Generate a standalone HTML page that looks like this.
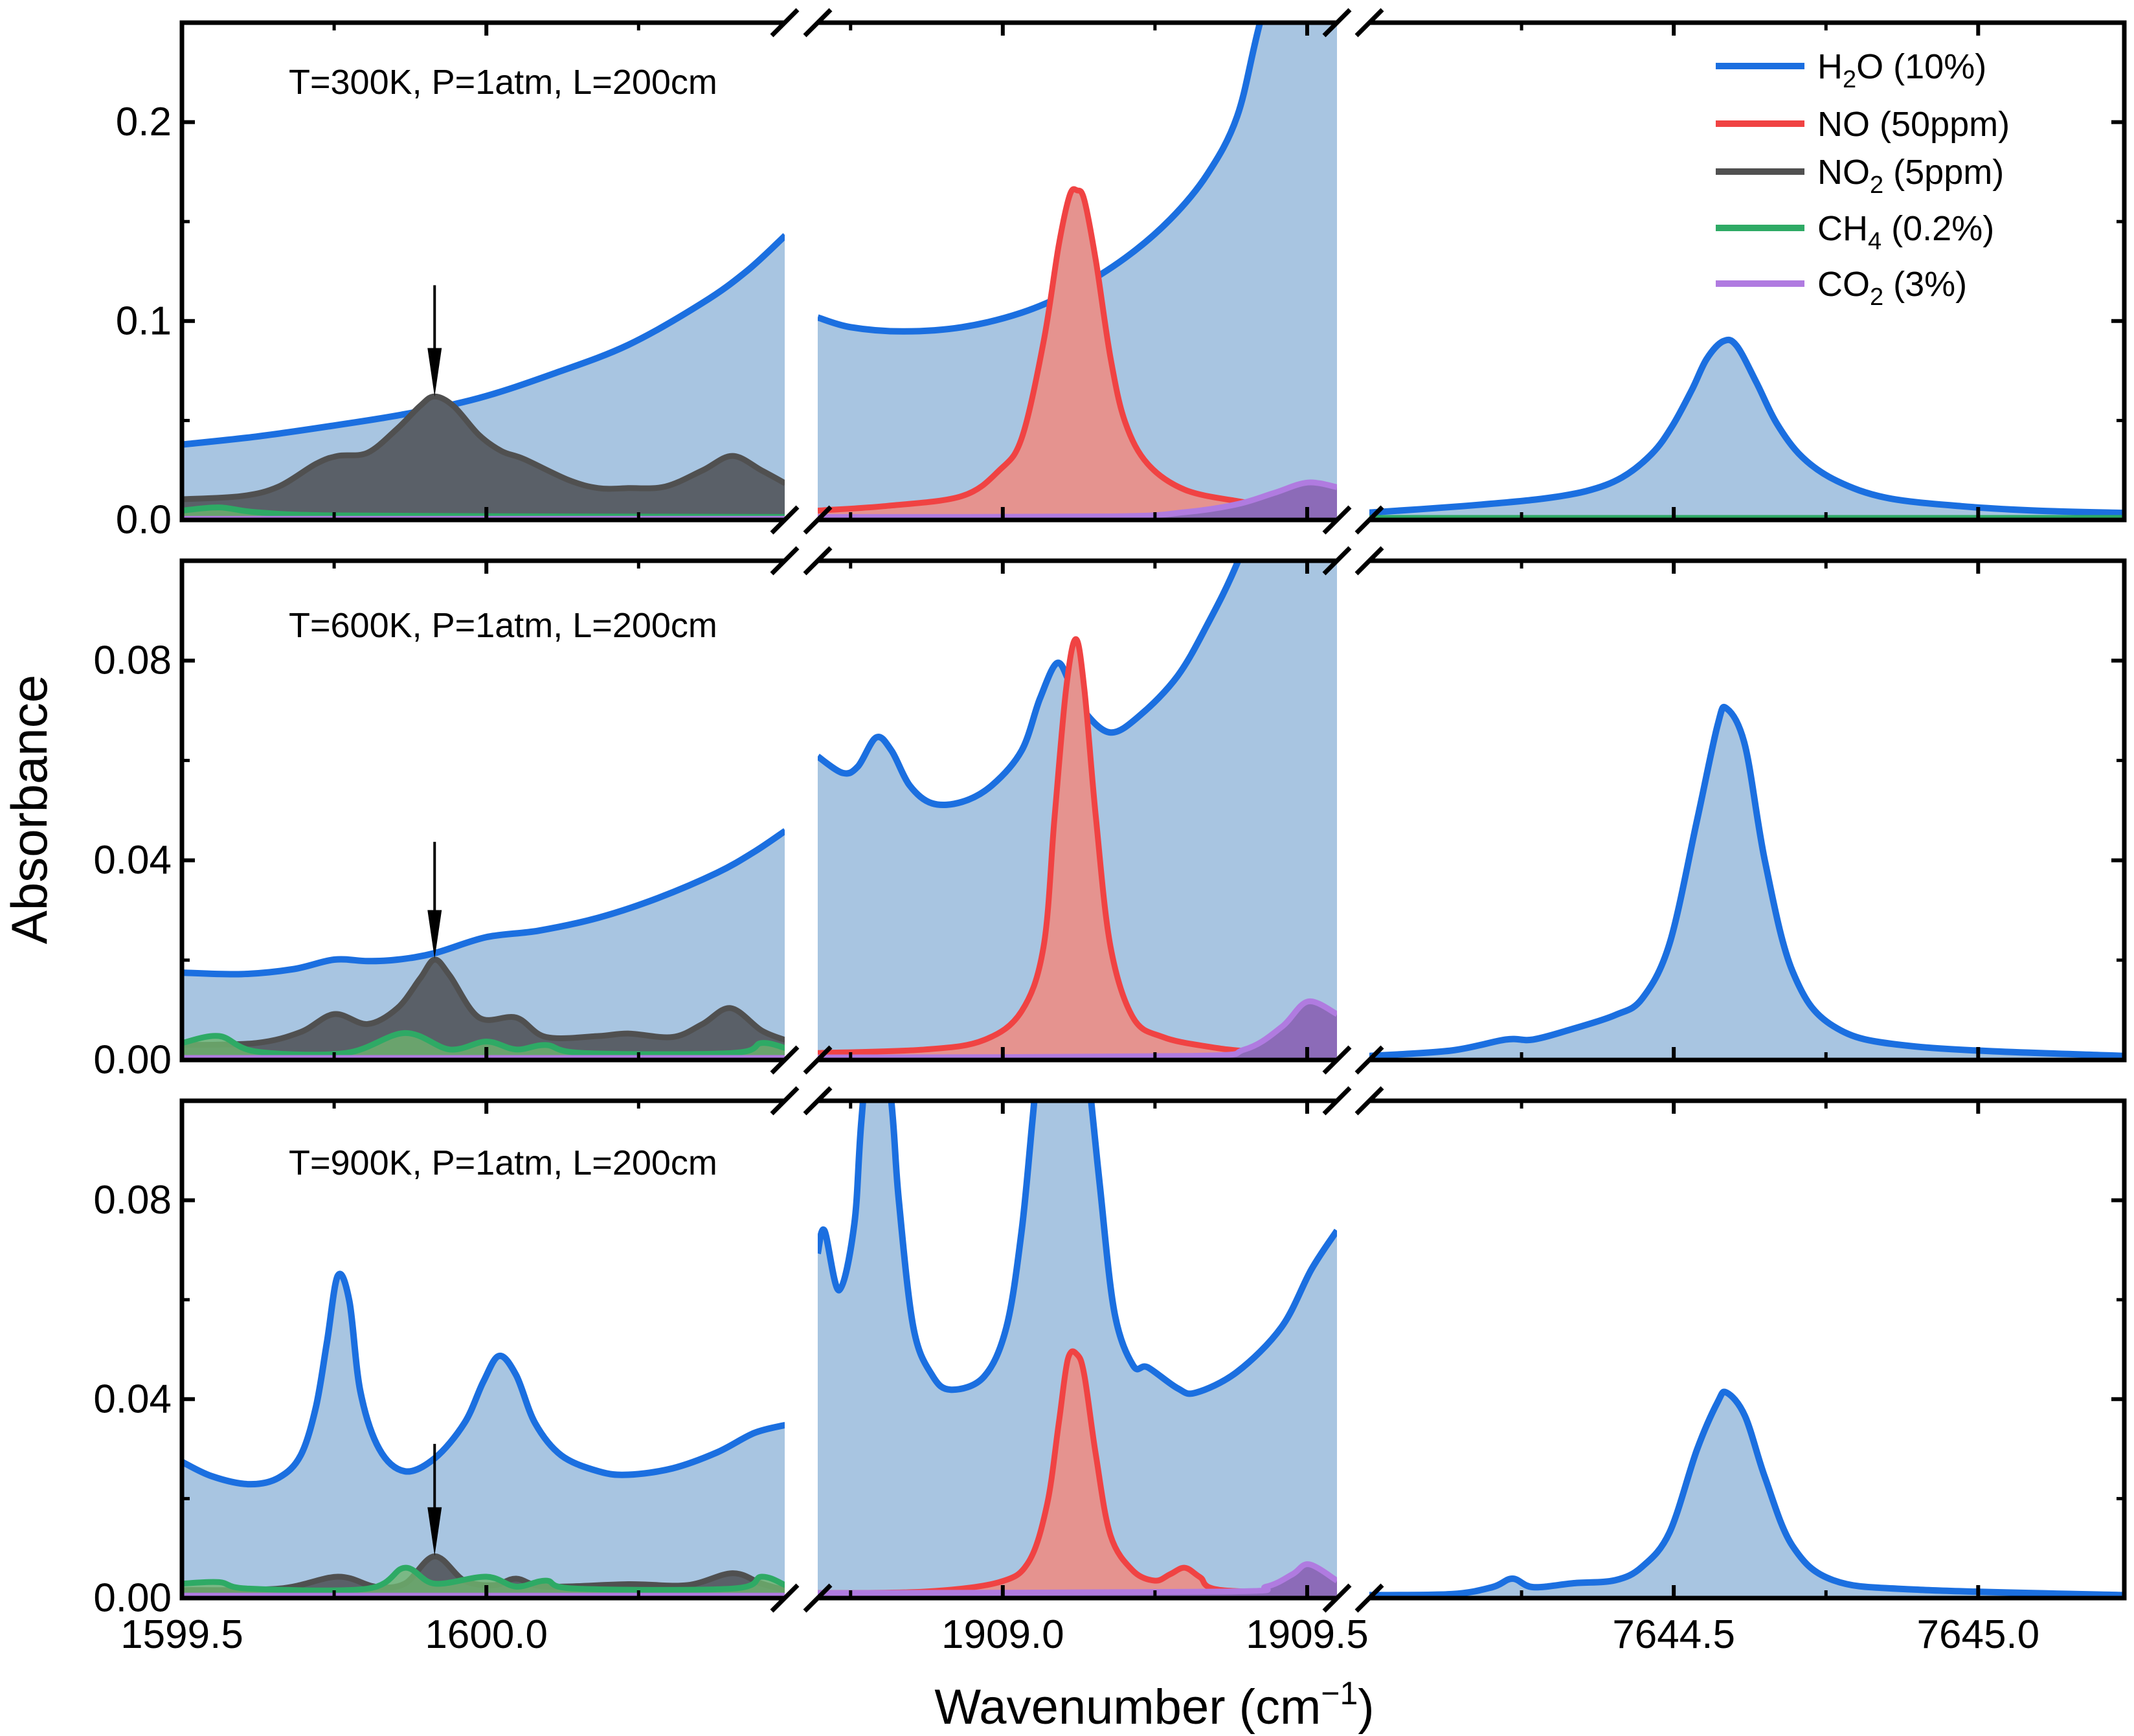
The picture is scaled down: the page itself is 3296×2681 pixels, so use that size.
<!DOCTYPE html>
<html><head><meta charset="utf-8"><style>
html,body{margin:0;padding:0;background:#fff;}
svg{display:block;font-family:"Liberation Sans",Arial,sans-serif;}
</style></head><body>
<svg id="chart" xmlns="http://www.w3.org/2000/svg" width="3296" height="2681" viewBox="0 0 3296 2681"></svg>
<script>
// ---- data (wavenumber / absorbance) ----
const h2o_p1_s1_wn=[1599.5,1599.622,1599.744,1599.866,1599.988,1600.11,1600.233,1600.355,1600.428,1600.491];
const h2o_p1_s1_abs=[0.0379,0.0419,0.0472,0.0532,0.0613,0.0735,0.0880,0.1091,0.1252,0.1430];
const no2_p1_s1_wn=[1599.5,1599.598,1599.659,1599.72,1599.756,1599.805,1599.854,1599.891,1599.915,1599.946,1599.988,1600.025,1600.062,1600.135,1600.184,1600.233,1600.294,1600.355,1600.404,1600.452,1600.491];
const no2_p1_s1_abs=[0.0104,0.0120,0.0168,0.0282,0.0322,0.0338,0.0460,0.0573,0.0621,0.0573,0.0427,0.0346,0.0306,0.0201,0.0160,0.0160,0.0168,0.0249,0.0322,0.0249,0.0184];
const ch4_p1_s1_wn=[1599.5,1599.561,1599.622,1599.744,1600.11,1600.491];
const ch4_p1_s1_abs=[0.0047,0.0063,0.0039,0.0023,0.0018,0.0015];
const co2_p1_s1_wn=[1599.5,1600.491];
const co2_p1_s1_abs=[0.0006,0.0006];

const h2o_p1_s2_wn=[1908.696,1908.750,1908.835,1908.933,1909.031,1909.116,1909.201,1909.275,1909.336,1909.385,1909.421,1909.482,1909.549];
const h2o_p1_s2_abs=[0.1018,0.0969,0.0948,0.0969,0.1042,0.1155,0.1317,0.1511,0.1738,0.2029,0.2482,0.32,0.40];
const no_p1_s2_wn=[1908.696,1908.811,1908.933,1908.994,1909.031,1909.067,1909.092,1909.110,1909.122,1909.134,1909.153,1909.177,1909.201,1909.238,1909.299,1909.385,1909.433,1909.549];
const no_p1_s2_abs=[0.0047,0.0071,0.0120,0.0249,0.0411,0.0896,0.1382,0.1633,0.1657,0.1608,0.1301,0.0815,0.0492,0.0282,0.0152,0.0095,0.0079,0.0055];
const co2_p1_s2_wn=[1908.696,1909.177,1909.299,1909.385,1909.446,1909.501,1909.549];
const co2_p1_s2_abs=[0.0015,0.0018,0.0039,0.0079,0.0136,0.0188,0.0165];

const h2o_p1_s3_wn=[7643.991,7644.151,7644.274,7644.356,7644.415,7644.464,7644.497,7644.530,7644.554,7644.581,7644.603,7644.636,7644.669,7644.711,7644.768,7644.850,7644.973,7645.096,7645.244];
const h2o_p1_s3_abs=[0.0035,0.0069,0.0103,0.0145,0.0214,0.0333,0.0469,0.0656,0.0809,0.0898,0.0877,0.0690,0.0486,0.0316,0.0196,0.0111,0.0069,0.0047,0.0035];
const ch4_p1_s3_wn=[7644.0,7645.24];
const ch4_p1_s3_abs=[0.0010,0.0010];

const h2o_p2_s1_wn=[1599.5,1599.598,1599.683,1599.750,1599.805,1599.854,1599.915,1600.0,1600.086,1600.184,1600.281,1600.379,1600.440,1600.491];
const h2o_p2_s1_abs=[0.0175,0.0172,0.0182,0.0201,0.0198,0.0201,0.0214,0.0246,0.0259,0.0285,0.0324,0.0375,0.0417,0.0459];
const no2_p2_s1_wn=[1599.5,1599.622,1599.695,1599.750,1599.805,1599.854,1599.891,1599.915,1599.94,1599.988,1600.049,1600.098,1600.184,1600.233,1600.306,1600.355,1600.401,1600.452,1600.491];
const no2_p2_s1_abs=[0.0030,0.0034,0.0056,0.0092,0.0072,0.0104,0.0163,0.0201,0.0169,0.0085,0.0085,0.0046,0.0048,0.0053,0.0046,0.0072,0.0104,0.0059,0.0040];
const ch4_p2_s1_wn=[1599.5,1599.561,1599.622,1599.769,1599.866,1599.94,1600.0,1600.049,1600.098,1600.159,1600.404,1600.452,1600.491];
const ch4_p2_s1_abs=[0.0034,0.0048,0.0017,0.0014,0.0054,0.0021,0.0037,0.0021,0.0030,0.0014,0.0014,0.0034,0.0024];
const co2_p2_s1_wn=[1599.5,1600.491];
const co2_p2_s1_abs=[0.0004,0.0004];

const h2o_p2_s2_wn=[1908.696,1908.737,1908.762,1908.792,1908.817,1908.847,1908.884,1908.933,1908.982,1909.031,1909.061,1909.089,1909.110,1909.134,1909.177,1909.226,1909.287,1909.336,1909.385,1909.446,1909.549];
const h2o_p2_s2_abs=[0.0608,0.0575,0.0588,0.0646,0.0620,0.0550,0.0514,0.0517,0.0550,0.0620,0.0724,0.0795,0.0756,0.0698,0.0656,0.0691,0.0769,0.0872,0.0995,0.119,0.145];
const no_p2_s2_wn=[1908.696,1908.872,1908.969,1909.031,1909.067,1909.085,1909.104,1909.120,1909.134,1909.153,1909.177,1909.214,1909.263,1909.336,1909.409,1909.549];
const no_p2_s2_abs=[0.0014,0.0021,0.0040,0.0098,0.0227,0.0485,0.0743,0.0843,0.0743,0.0485,0.0227,0.0085,0.0046,0.0027,0.0017,0.0011];
const co2_p2_s2_wn=[1908.696,1909.299,1909.397,1909.458,1909.501,1909.549];
const co2_p2_s2_abs=[0.0005,0.0008,0.0021,0.0066,0.0117,0.0092];

const h2o_p2_s3_wn=[7644.0,7644.135,7644.224,7644.269,7644.336,7644.404,7644.448,7644.493,7644.538,7644.572,7644.587,7644.617,7644.650,7644.695,7644.762,7644.897,7645.24];
const h2o_p2_s3_abs=[0.0008,0.0019,0.0041,0.0041,0.0063,0.0090,0.0123,0.0233,0.0479,0.0671,0.0704,0.0630,0.0397,0.0178,0.0068,0.0027,0.0008];

const h2o_p3_s1_wn=[1599.5,1599.549,1599.610,1599.659,1599.695,1599.720,1599.738,1599.756,1599.775,1599.793,1599.824,1599.866,1599.915,1599.964,1599.995,1600.021,1600.049,1600.080,1600.123,1600.184,1600.233,1600.306,1600.379,1600.440,1600.491];
const h2o_p3_s1_abs=[0.0274,0.0245,0.0229,0.0242,0.0287,0.0384,0.0513,0.0648,0.0597,0.0416,0.0300,0.0255,0.0281,0.0352,0.0435,0.0487,0.0448,0.0352,0.0287,0.0255,0.0248,0.0261,0.0293,0.0332,0.0348];
const no2_p3_s1_wn=[1599.5,1599.659,1599.756,1599.817,1599.866,1599.915,1599.964,1600.013,1600.049,1600.098,1600.233,1600.330,1600.404,1600.452,1600.491];
const no2_p3_s1_abs=[0.0016,0.0019,0.0043,0.0023,0.0029,0.0084,0.0035,0.0026,0.0039,0.0023,0.0028,0.0026,0.0050,0.0029,0.0016];
const ch4_p3_s1_wn=[1599.5,1599.561,1599.610,1599.805,1599.866,1599.915,1600.0,1600.049,1600.098,1600.147,1600.404,1600.452,1600.491];
const ch4_p3_s1_abs=[0.0029,0.0032,0.0019,0.0019,0.0061,0.0029,0.0043,0.0023,0.0035,0.0019,0.0019,0.0043,0.0026];
const co2_p3_s1_wn=[1599.5,1600.491];
const co2_p3_s1_abs=[0.0005,0.0005];

const h2o_p3_s2_wn=[1908.696,1908.707,1908.731,1908.756,1908.768,1908.792,1908.817,1908.829,1908.853,1908.884,1908.915,1908.969,1909.006,1909.031,1909.049,1909.067,1909.098,1909.128,1909.140,1909.159,1909.183,1909.214,1909.238,1909.287,1909.317,1909.385,1909.458,1909.507,1909.549];
const h2o_p3_s2_abs=[0.0693,0.0739,0.0619,0.0751,0.0964,0.1255,0.0997,0.0803,0.0545,0.0448,0.0419,0.0445,0.0545,0.0739,0.0964,0.119,0.145,0.119,0.1061,0.0835,0.0577,0.0468,0.0464,0.0422,0.0413,0.0455,0.0545,0.0661,0.0739];
const no_p3_s2_wn=[1908.696,1908.872,1908.994,1909.043,1909.073,1909.092,1909.107,1909.122,1909.134,1909.153,1909.177,1909.214,1909.250,1909.275,1909.299,1909.324,1909.360,1909.549];
const no_p3_s2_abs=[0.0010,0.0013,0.0032,0.0074,0.0190,0.0352,0.0481,0.0490,0.0448,0.0287,0.0126,0.0055,0.0035,0.0048,0.0061,0.0042,0.0016,0.0010];
const co2_p3_s2_wn=[1908.696,1909.360,1909.433,1909.476,1909.503,1909.549];
const co2_p3_s2_abs=[0.0010,0.0013,0.0023,0.0048,0.0068,0.0035];

const h2o_p3_s3_wn=[7644.0,7644.135,7644.202,7644.235,7644.269,7644.336,7644.404,7644.448,7644.493,7644.538,7644.572,7644.587,7644.617,7644.650,7644.695,7644.762,7644.897,7645.24];
const h2o_p3_s3_abs=[0.0006,0.0008,0.0022,0.0039,0.0022,0.0030,0.0036,0.0063,0.0132,0.0298,0.0394,0.0413,0.0366,0.0242,0.0105,0.0036,0.0017,0.0006];

const arrowWn=[1599.915,1599.915,1599.915];
const arrowFrom=[0.118,0.0437,0.031];
const arrowTo=[0.062,0.0203,0.0085];

const panelLabels=["T=300K, P=1atm, L=200cm","T=600K, P=1atm, L=200cm","T=900K, P=1atm, L=200cm"];
const yTickLabels=[["0.0","0.1","0.2"],["0.00","0.04","0.08"],["0.00","0.04","0.08"]];
const yTickValues=[[0,0.1,0.2],[0,0.04,0.08],[0,0.04,0.08]];
const yMinorValues=[[0.05,0.15],[0.02,0.06],[0.02,0.06]];
const xMajor=[[1599.5,1600.0],[1909.0,1909.5],[7644.5,7645.0]];
const xMajorLabels=[["1599.5","1600.0"],["1909.0","1909.5"],["7644.5","7645.0"]];
const xMinor=[[1599.75,1600.25],[1908.75,1909.25],[7644.25,7644.75]];

// ---- layout ----
const SEGS=[{px0:281,px1:1212,d0:1599.5,d1:1600.49},{px0:1263,px1:2065,d0:1908.696,d1:1909.549},{px0:2115,px1:3281,d0:7644.0,d1:7645.24}];
const PANELS=[{top:35,bot:803,ymax:0.25},{top:866,bot:1637,ymax:0.10},{top:1700,bot:2468,ymax:0.10}];
const COL={h2o:{line:"#1b6fe0",fill:"#a8c5e1"},no:{line:"#f04343",fill:"#e5938f"},no2:{line:"#505050",fill:"#5a6068"},ch4:{line:"#2eaa65",fill:"rgba(110,180,110,0.8)"},co2:{line:"#b07be0",fill:"#8c6bb8"}};
const NS="http://www.w3.org/2000/svg";
const svg=document.getElementById('chart');
function el(tag,attrs,parent){const e=document.createElementNS(NS,tag);for(const k in attrs)e.setAttribute(k,attrs[k]);(parent||svg).appendChild(e);return e;}
function sx(s,wn){const g=SEGS[s];return g.px0+(wn-g.d0)/(g.d1-g.d0)*(g.px1-g.px0);}
function sy(p,a){const P=PANELS[p];return P.bot-a/P.ymax*(P.bot-P.top);}
function smooth(pts){let d=`M${pts[0][0].toFixed(1)},${pts[0][1].toFixed(1)}`;for(let i=0;i<pts.length-1;i++){const p0=pts[i-1]||pts[i],p1=pts[i],p2=pts[i+1],p3=pts[i+2]||p2;const c1x=p1[0]+(p2[0]-p0[0])/6,c1y=p1[1]+(p2[1]-p0[1])/6,c2x=p2[0]-(p3[0]-p1[0])/6,c2y=p2[1]-(p3[1]-p1[1])/6;d+=` C${c1x.toFixed(1)},${c1y.toFixed(1)} ${c2x.toFixed(1)},${c2y.toFixed(1)} ${p2[0].toFixed(1)},${p2[1].toFixed(1)}`;}return d;}

const SERIES=[
 [0,0,'h2o',h2o_p1_s1_wn,h2o_p1_s1_abs],[0,0,'no2',no2_p1_s1_wn,no2_p1_s1_abs],[0,0,'ch4',ch4_p1_s1_wn,ch4_p1_s1_abs],[0,0,'co2',co2_p1_s1_wn,co2_p1_s1_abs],
 [0,1,'h2o',h2o_p1_s2_wn,h2o_p1_s2_abs],[0,1,'no',no_p1_s2_wn,no_p1_s2_abs],[0,1,'co2',co2_p1_s2_wn,co2_p1_s2_abs],
 [0,2,'h2o',h2o_p1_s3_wn,h2o_p1_s3_abs],[0,2,'ch4',ch4_p1_s3_wn,ch4_p1_s3_abs],
 [1,0,'h2o',h2o_p2_s1_wn,h2o_p2_s1_abs],[1,0,'no2',no2_p2_s1_wn,no2_p2_s1_abs],[1,0,'ch4',ch4_p2_s1_wn,ch4_p2_s1_abs],[1,0,'co2',co2_p2_s1_wn,co2_p2_s1_abs],
 [1,1,'h2o',h2o_p2_s2_wn,h2o_p2_s2_abs],[1,1,'no',no_p2_s2_wn,no_p2_s2_abs],[1,1,'co2',co2_p2_s2_wn,co2_p2_s2_abs],
 [1,2,'h2o',h2o_p2_s3_wn,h2o_p2_s3_abs],
 [2,0,'h2o',h2o_p3_s1_wn,h2o_p3_s1_abs],[2,0,'no2',no2_p3_s1_wn,no2_p3_s1_abs],[2,0,'ch4',ch4_p3_s1_wn,ch4_p3_s1_abs],[2,0,'co2',co2_p3_s1_wn,co2_p3_s1_abs],
 [2,1,'h2o',h2o_p3_s2_wn,h2o_p3_s2_abs],[2,1,'no',no_p3_s2_wn,no_p3_s2_abs],[2,1,'co2',co2_p3_s2_wn,co2_p3_s2_abs],
 [2,2,'h2o',h2o_p3_s3_wn,h2o_p3_s3_abs]
];

const defs=el('defs',{});
for(let p=0;p<3;p++)for(let s=0;s<3;s++){const c=el('clipPath',{id:`clip${p}${s}`},defs);el('rect',{x:SEGS[s].px0,y:PANELS[p].top,width:SEGS[s].px1-SEGS[s].px0,height:PANELS[p].bot-PANELS[p].top},c);}

// series
SERIES.forEach(([p,s,key,wn,ab])=>{
  const g=el('g',{'clip-path':`url(#clip${p}${s})`});
  
  
  const pts=wn.map((w,i)=>[sx(s,w),sy(p,ab[i])]);
  const d=smooth(pts);
  const y0=sy(p,0);
  const fill=el('path',{d:d+` L${pts[pts.length-1][0]},${y0} L${pts[0][0]},${y0} Z`,fill:COL[key].fill,stroke:'none'},g);
  
  
  const ln=el('path',{d:d,fill:'none',stroke:COL[key].line,'stroke-width':key==='h2o'?10:9,'stroke-linejoin':'round'},g);
  
  
});

// axes frames
for(let p=0;p<3;p++){
  const P=PANELS[p];
  const ax=el('g',{stroke:'#000','stroke-width':7,fill:'none'});
  
  
  el('line',{x1:SEGS[0].px0,y1:P.top-3.5,x2:SEGS[0].px0,y2:P.bot+3.5},ax);
  el('line',{x1:SEGS[2].px1,y1:P.top-3.5,x2:SEGS[2].px1,y2:P.bot+3.5},ax);
  for(let s=0;s<3;s++){
    el('line',{x1:SEGS[s].px0,y1:P.top,x2:SEGS[s].px1,y2:P.top},ax);
    el('line',{x1:SEGS[s].px0,y1:P.bot,x2:SEGS[s].px1,y2:P.bot},ax);
    xMajor[s].forEach(w=>{const x=sx(s,w);el('line',{x1:x,y1:P.top,x2:x,y2:P.top+20,'stroke-width':6},ax);el('line',{x1:x,y1:P.bot,x2:x,y2:P.bot-20,'stroke-width':6},ax);});
    xMinor[s].forEach(w=>{const x=sx(s,w);el('line',{x1:x,y1:P.top,x2:x,y2:P.top+12,'stroke-width':5},ax);el('line',{x1:x,y1:P.bot,x2:x,y2:P.bot-12,'stroke-width':5},ax);});
  }
  // breaks
  [SEGS[0].px1,SEGS[1].px0,SEGS[1].px1,SEGS[2].px0].forEach(x=>{[P.top,P.bot].forEach(y=>{el('line',{x1:x-20,y1:y+20,x2:x+20,y2:y-20,'stroke-width':7},ax);});});
  yTickValues[p].forEach((v,i)=>{const y=sy(p,v);
    el('line',{x1:SEGS[0].px0,y1:y,x2:SEGS[0].px0+20,y2:y,'stroke-width':6},ax);
    el('line',{x1:SEGS[2].px1,y1:y,x2:SEGS[2].px1-20,y2:y,'stroke-width':6},ax);
    const t=el('text',{x:265,y:y,'text-anchor':'end','dominant-baseline':'central','font-size':62,fill:'#000',stroke:'none'});
    t.textContent=yTickLabels[p][i];
    
    
  });
  yMinorValues[p].forEach(v=>{const y=sy(p,v);el('line',{x1:SEGS[0].px0,y1:y,x2:SEGS[0].px0+12,y2:y,'stroke-width':5},ax);el('line',{x1:SEGS[2].px1,y1:y,x2:SEGS[2].px1-12,y2:y,'stroke-width':5},ax);});
  // label
  const lab=el('text',{x:446,y:[145,984,1814][p],'font-size':54,fill:'#000'});
  lab.textContent=panelLabels[p];
  
  
  // arrow
  const ax1=sx(0,arrowWn[p]),yA=sy(p,arrowFrom[p]),yB=sy(p,arrowTo[p]);
  const ar=el('g',{});
  
  
  el('line',{x1:ax1,y1:yA,x2:ax1,y2:yB-40,stroke:'#000','stroke-width':4},ar);
  el('polygon',{points:`${ax1-11},${yB-75} ${ax1+11},${yB-75} ${ax1},${yB}`,fill:'#000'},ar);
}

// x tick labels
for(let s=0;s<3;s++)xMajor[s].forEach((w,i)=>{const t=el('text',{x:sx(s,w),y:2545,'text-anchor':'middle','font-size':62,fill:'#000'});t.textContent=xMajorLabels[s][i];});

// axis titles
const xt=el('text',{x:1783,y:2662,'text-anchor':'middle','font-size':76,fill:'#000'});


xt.innerHTML='Wavenumber (cm<tspan dy="-30" font-size="50">−1</tspan><tspan dy="30">)</tspan>';
const yt=el('text',{x:0,y:0,'text-anchor':'middle','font-size':78,fill:'#000',transform:'translate(72,1250) rotate(-90)'});


yt.textContent='Absorbance';

// legend
const legKeys=['h2o','no','no2','ch4','co2'];
const legY=[102,191,265,352,438];
const legHtml=['H<tspan dy="14" font-size="38">2</tspan><tspan dy="-14">O (10%)</tspan>','NO (50ppm)','NO<tspan dy="14" font-size="38">2</tspan><tspan dy="-14"> (5ppm)</tspan>','CH<tspan dy="14" font-size="38">4</tspan><tspan dy="-14"> (0.2%)</tspan>','CO<tspan dy="14" font-size="38">2</tspan><tspan dy="-14"> (3%)</tspan>'];
const leg=el('g',{});


legKeys.forEach((k,i)=>{
  const g=el('g',{},leg);
  
  
  el('line',{x1:2650,y1:legY[i],x2:2787,y2:legY[i],stroke:COL[k].line,'stroke-width':10},g);
  const t=el('text',{x:2807,y:legY[i]+19,'font-size':54,fill:'#000'},g);
  t.innerHTML=legHtml[i];
});
</script>
</body></html>
